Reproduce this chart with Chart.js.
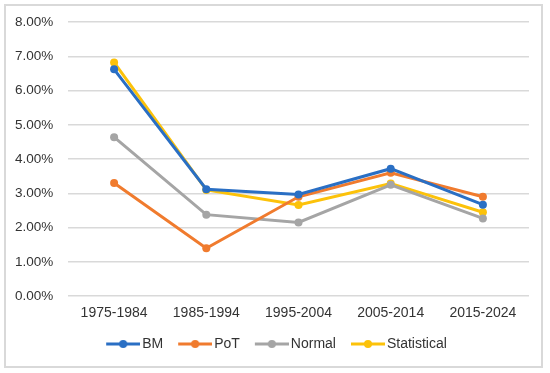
<!DOCTYPE html>
<html>
<head>
<meta charset="utf-8">
<script src="https://cdn.jsdelivr.net/npm/chart.js@4"></script>
<style>
  body { margin: 0; background: #fff; }
  #box {
    position: absolute; left: 4px; top: 4px;
    width: 535px; height: 360px;
    border: 2px solid #d9d9d9; background: #fff;
  }
</style>
</head>
<body>
<div id="box"><canvas id="chart" width="535" height="360"></canvas></div>
<script>
// Periods on the x axis
const periods = ['1975-1984', '1985-1994', '1995-2004', '2005-2014', '2015-2024'];

// Rates in percent
const bm = [6.62, 3.12, 2.97, 3.72, 2.67];
const pot = [3.30, 1.40, 2.90, 3.60, 2.90];
const normal = [4.64, 2.38, 2.15, 3.25, 2.27];
const statistical = [6.82, 3.10, 2.66, 3.29, 2.45];

const seriesNames = ['BM', 'PoT', 'Normal', 'Statistical'];
const seriesColors = ['#2a6fc4', '#f07b2e', '#a5a5a5', '#fcc20a'];

// legend marker: short line with a dot, pushed to the right of the box
// so it sits close to its label with a wider gap before it
function legendMarker(color) {
  const c = document.createElement('canvas');
  c.width = 48; c.height = 10;
  const ctx = c.getContext('2d');
  ctx.strokeStyle = color;
  ctx.lineWidth = 3;
  ctx.beginPath();
  ctx.moveTo(14, 5);
  ctx.lineTo(48, 5);
  ctx.stroke();
  ctx.fillStyle = color;
  ctx.beginPath();
  ctx.arc(31, 5, 4, 0, Math.PI * 2);
  ctx.fill();
  return c;
}

const allValues = [bm, pot, normal, statistical];

new Chart(document.getElementById('chart'), {
  type: 'line',
  data: {
    labels: periods,
    datasets: allValues.map(function(vals, i) {
      return {
        label: seriesNames[i],
        data: vals,
        borderColor: seriesColors[i],
        backgroundColor: seriesColors[i],
        borderWidth: 3,
        pointRadius: 4,
        pointHoverRadius: 4,
        pointBorderWidth: 0,
        tension: 0
      };
    })
  },
  options: {
    responsive: false,
    animation: false,
    layout: { padding: { left: 9, right: 12, top: 16, bottom: 5 } },
    plugins: {
      tooltip: { enabled: false },
      legend: {
        position: 'bottom',
        labels: {
          usePointStyle: true,
          pointStyleWidth: 38,
          color: '#333',
          font: { family: 'Liberation Sans', size: 14 },
          padding: 6,
          generateLabels: function(chart) {
            return chart.data.datasets.map(function(ds, i) {
              return {
                text: ds.label,
                pointStyle: legendMarker(ds.borderColor),
                fillStyle: ds.borderColor,
                strokeStyle: ds.borderColor,
                lineWidth: 0,
                fontColor: '#333',
                datasetIndex: i
              };
            });
          }
        }
      }
    },
    scales: {
      x: {
        offset: true,
        grid: { display: false, drawTicks: false },
        border: { display: false },
        ticks: {
          color: '#333',
          padding: 9,
          font: { family: 'Liberation Sans', size: 14 }
        }
      },
      y: {
        min: 0,
        max: 8,
        afterFit: function(scale) { scale.width = 53; },
        grid: { color: '#d9d9d9', lineWidth: 1.5, drawTicks: false },
        border: { display: false },
        ticks: {
          stepSize: 1,
          color: '#333',
          padding: 3,
          crossAlign: 'far',
          font: { family: 'Liberation Sans', size: 13.5 },
          callback: function(v) { return v.toFixed(2) + '%'; }
        }
      }
    }
  }
});
</script>
</body>
</html>
